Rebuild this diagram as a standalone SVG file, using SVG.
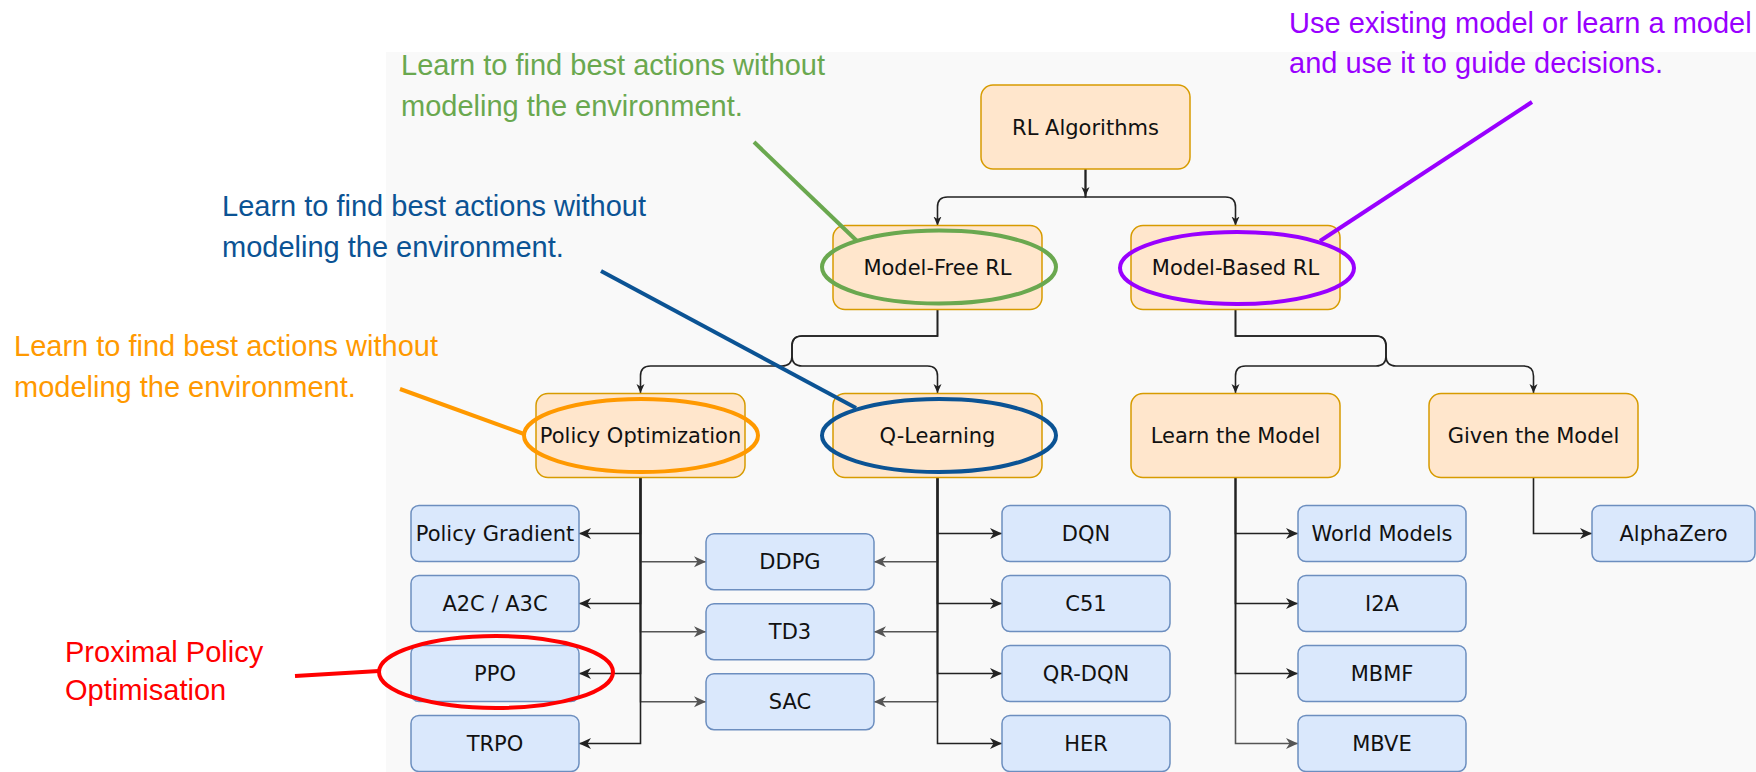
<svg xmlns="http://www.w3.org/2000/svg" width="1756" height="772" viewBox="0 0 1756 772">
  <style>
    .grp rect { stroke-width: 1.5; }
    .cat rect { fill: #ffe6cc; stroke: #d79b00; }
    .alg rect { fill: #dae8fc; stroke: #6c8ebf; }
    .lbl { font-family: "DejaVu Sans", Verdana, sans-serif; font-size: 21px; fill: #111; text-anchor: middle; }
    .edge { fill: none; stroke-width: 1.6; }
    .dark { stroke: #222; }
    .grey { stroke: #555; }
    .note { font-family: "Liberation Sans", Arial, sans-serif; font-size: 29px; }
    .mark { fill: none; stroke-width: 4; stroke-linecap: butt; }
  </style>
  <defs>
    <marker id="arrSmall" markerUnits="userSpaceOnUse" markerWidth="12" markerHeight="12" refX="9" refY="4" orient="auto">
      <path d="M0,0 L9,4 L0,8 L2.5,4 Z" fill="#222"/>
    </marker>
    <marker id="arrDark" markerUnits="userSpaceOnUse" markerWidth="14" markerHeight="14" refX="12" refY="5.5" orient="auto">
      <path d="M0,0 L12,5.5 L0,11 L3.5,5.5 Z" fill="#222"/>
    </marker>
    <marker id="arrGrey" markerUnits="userSpaceOnUse" markerWidth="14" markerHeight="14" refX="12" refY="5.5" orient="auto">
      <path d="M0,0 L12,5.5 L0,11 L3.5,5.5 Z" fill="#555"/>
    </marker>
  </defs>

  <!-- canvas -->
  <rect x="0" y="0" width="1756" height="772" fill="#ffffff"/>
  <rect x="386" y="52" width="1370" height="720" fill="#f9f9f9"/>

  <!-- connectors -->
  <g id="connectors">
    <!-- RL Algorithms to the two families -->
    <path class="edge dark" d="M1085.5,169 V196" marker-end="url(#arrSmall)"/>
    <path class="edge dark" d="M1085.5,169 V197 H947.5 Q937.5,197 937.5,207 V225.5" marker-end="url(#arrSmall)"/>
    <path class="edge dark" d="M1085.5,169 V197 H1225.5 Q1235.5,197 1235.5,207 V225.5" marker-end="url(#arrSmall)"/>

    <!-- Model-Free RL split -->
    <path class="edge dark" d="M937.5,309.5 V336 H802 Q792,336 792,346 V356 Q792,366 782,366 H650.5 Q640.5,366 640.5,376 V393" marker-end="url(#arrSmall)"/>
    <path class="edge dark" d="M937.5,309.5 V336 H802 Q792,336 792,346 V356 Q792,366 802,366 H927.5 Q937.5,366 937.5,376 V393" marker-end="url(#arrSmall)"/>

    <!-- Model-Based RL split -->
    <path class="edge dark" d="M1235.5,309.5 V336 H1376 Q1386,336 1386,346 V356 Q1386,366 1376,366 H1245.5 Q1235.5,366 1235.5,376 V393" marker-end="url(#arrSmall)"/>
    <path class="edge dark" d="M1235.5,309.5 V336 H1376 Q1386,336 1386,346 V356 Q1386,366 1396,366 H1523.5 Q1533.5,366 1533.5,376 V393" marker-end="url(#arrSmall)"/>

    <!-- Policy Optimization leaves -->
    <path class="edge grey" d="M640.5,477.5 V561.7 H706" marker-end="url(#arrGrey)"/>
    <path class="edge grey" d="M640.5,477.5 V631.7 H706" marker-end="url(#arrGrey)"/>
    <path class="edge grey" d="M640.5,477.5 V701.7 H706" marker-end="url(#arrGrey)"/>
    <path class="edge dark" d="M640.5,477.5 V533.5 H579" marker-end="url(#arrDark)"/>
    <path class="edge dark" d="M640.5,477.5 V603.5 H579" marker-end="url(#arrDark)"/>
    <path class="edge dark" d="M640.5,477.5 V673.5 H579" marker-end="url(#arrDark)"/>
    <path class="edge dark" d="M640.5,477.5 V743.5 H579" marker-end="url(#arrDark)"/>

    <!-- Q-Learning leaves -->
    <path class="edge grey" d="M937.5,477.5 V561.7 H874" marker-end="url(#arrGrey)"/>
    <path class="edge grey" d="M937.5,477.5 V631.7 H874" marker-end="url(#arrGrey)"/>
    <path class="edge grey" d="M937.5,477.5 V701.7 H874" marker-end="url(#arrGrey)"/>
    <path class="edge dark" d="M937.5,477.5 V533.5 H1002" marker-end="url(#arrDark)"/>
    <path class="edge dark" d="M937.5,477.5 V603.5 H1002" marker-end="url(#arrDark)"/>
    <path class="edge dark" d="M937.5,477.5 V673.5 H1002" marker-end="url(#arrDark)"/>
    <path class="edge dark" d="M937.5,477.5 V743.5 H1002" marker-end="url(#arrDark)"/>

    <!-- Learn the Model leaves -->
    <path class="edge grey" d="M1235.5,477.5 V743.5 H1298" marker-end="url(#arrGrey)"/>
    <path class="edge dark" d="M1235.5,477.5 V533.5 H1298" marker-end="url(#arrDark)"/>
    <path class="edge dark" d="M1235.5,477.5 V603.5 H1298" marker-end="url(#arrDark)"/>
    <path class="edge dark" d="M1235.5,477.5 V673.5 H1298" marker-end="url(#arrDark)"/>

    <!-- Given the Model leaf -->
    <path class="edge dark" d="M1533.5,477.5 V533.5 H1592" marker-end="url(#arrDark)"/>
  </g>

  <!-- category nodes -->
  <g id="rl-algorithms" class="grp cat"><rect x="981" y="85" width="209" height="84" rx="12"/><text class="lbl" x="1085.5" y="134.5">RL Algorithms</text></g>
  <g id="model-free" class="grp cat"><rect x="833" y="225.5" width="209" height="84" rx="12"/><text class="lbl" x="937.5" y="275">Model-Free RL</text></g>
  <g id="model-based" class="grp cat"><rect x="1131" y="225.5" width="209" height="84" rx="12"/><text class="lbl" x="1235.5" y="275">Model-Based RL</text></g>
  <g id="policy-optimization" class="grp cat"><rect x="536" y="393.5" width="209" height="84" rx="12"/><text class="lbl" x="640.5" y="443">Policy Optimization</text></g>
  <g id="q-learning" class="grp cat"><rect x="833" y="393.5" width="209" height="84" rx="12"/><text class="lbl" x="937.5" y="443">Q-Learning</text></g>
  <g id="learn-model" class="grp cat"><rect x="1131" y="393.5" width="209" height="84" rx="12"/><text class="lbl" x="1235.5" y="443">Learn the Model</text></g>
  <g id="given-model" class="grp cat"><rect x="1429" y="393.5" width="209" height="84" rx="12"/><text class="lbl" x="1533.5" y="443">Given the Model</text></g>

  <!-- algorithm nodes -->
  <g id="policy-gradient" class="grp alg"><rect x="411" y="505.5" width="168" height="56" rx="8"/><text class="lbl" x="495" y="541">Policy Gradient</text></g>
  <g id="a2c-a3c" class="grp alg"><rect x="411" y="575.5" width="168" height="56" rx="8"/><text class="lbl" x="495" y="611">A2C / A3C</text></g>
  <g id="ppo" class="grp alg"><rect x="411" y="645.5" width="168" height="56" rx="8"/><text class="lbl" x="495" y="681">PPO</text></g>
  <g id="trpo" class="grp alg"><rect x="411" y="715.5" width="168" height="56" rx="8"/><text class="lbl" x="495" y="751">TRPO</text></g>

  <g id="ddpg" class="grp alg"><rect x="706" y="533.7" width="168" height="56" rx="8"/><text class="lbl" x="790" y="569.2">DDPG</text></g>
  <g id="td3" class="grp alg"><rect x="706" y="603.7" width="168" height="56" rx="8"/><text class="lbl" x="790" y="639.2">TD3</text></g>
  <g id="sac" class="grp alg"><rect x="706" y="673.7" width="168" height="56" rx="8"/><text class="lbl" x="790" y="709.2">SAC</text></g>

  <g id="dqn" class="grp alg"><rect x="1002" y="505.5" width="168" height="56" rx="8"/><text class="lbl" x="1086" y="541">DQN</text></g>
  <g id="c51" class="grp alg"><rect x="1002" y="575.5" width="168" height="56" rx="8"/><text class="lbl" x="1086" y="611">C51</text></g>
  <g id="qr-dqn" class="grp alg"><rect x="1002" y="645.5" width="168" height="56" rx="8"/><text class="lbl" x="1086" y="681">QR-DQN</text></g>
  <g id="her" class="grp alg"><rect x="1002" y="715.5" width="168" height="56" rx="8"/><text class="lbl" x="1086" y="751">HER</text></g>

  <g id="world-models" class="grp alg"><rect x="1298" y="505.5" width="168" height="56" rx="8"/><text class="lbl" x="1382" y="541">World Models</text></g>
  <g id="i2a" class="grp alg"><rect x="1298" y="575.5" width="168" height="56" rx="8"/><text class="lbl" x="1382" y="611">I2A</text></g>
  <g id="mbmf" class="grp alg"><rect x="1298" y="645.5" width="168" height="56" rx="8"/><text class="lbl" x="1382" y="681">MBMF</text></g>
  <g id="mbve" class="grp alg"><rect x="1298" y="715.5" width="168" height="56" rx="8"/><text class="lbl" x="1382" y="751">MBVE</text></g>

  <g id="alphazero" class="grp alg"><rect x="1592" y="505.5" width="163" height="56" rx="8"/><text class="lbl" x="1673.5" y="541">AlphaZero</text></g>

  <!-- callouts -->
  <g id="note-model-free">
    <text class="note" fill="#6aa84f"><tspan x="401" y="75">Learn to find best actions without</tspan><tspan x="401" y="116">modeling the environment.</tspan></text>
    <line class="mark" stroke="#6aa84f" x1="754" y1="142" x2="857" y2="241"/>
    <ellipse class="mark" stroke="#6aa84f" cx="939" cy="267" rx="117" ry="36.5"/>
  </g>
  <g id="note-q-learning">
    <text class="note" fill="#0b5394"><tspan x="222" y="216">Learn to find best actions without</tspan><tspan x="222" y="257">modeling the environment.</tspan></text>
    <line class="mark" stroke="#0b5394" x1="601" y1="271" x2="856" y2="408"/>
    <ellipse class="mark" stroke="#0b5394" cx="939" cy="435.5" rx="117" ry="36.5"/>
  </g>
  <g id="note-policy-optimization">
    <text class="note" fill="#ff9900"><tspan x="14" y="356">Learn to find best actions without</tspan><tspan x="14" y="397">modeling the environment.</tspan></text>
    <line class="mark" stroke="#ff9900" x1="400" y1="389" x2="524" y2="434"/>
    <ellipse class="mark" stroke="#ff9900" cx="641" cy="435.5" rx="117" ry="36.5"/>
  </g>
  <g id="note-model-based">
    <text class="note" fill="#9900ff"><tspan x="1289" y="33">Use existing model or learn a model</tspan><tspan x="1289" y="73">and use it to guide decisions.</tspan></text>
    <line class="mark" stroke="#9900ff" x1="1532" y1="102" x2="1320" y2="241"/>
    <ellipse class="mark" stroke="#9900ff" cx="1237" cy="268" rx="117" ry="36"/>
  </g>
  <g id="note-ppo">
    <text class="note" fill="#ff0000"><tspan x="65" y="662">Proximal Policy</tspan><tspan x="65" y="700">Optimisation</tspan></text>
    <line class="mark" stroke="#ff0000" x1="295" y1="676" x2="379" y2="671"/>
    <ellipse class="mark" stroke="#ff0000" cx="496" cy="672" rx="117" ry="36"/>
  </g>
</svg>
